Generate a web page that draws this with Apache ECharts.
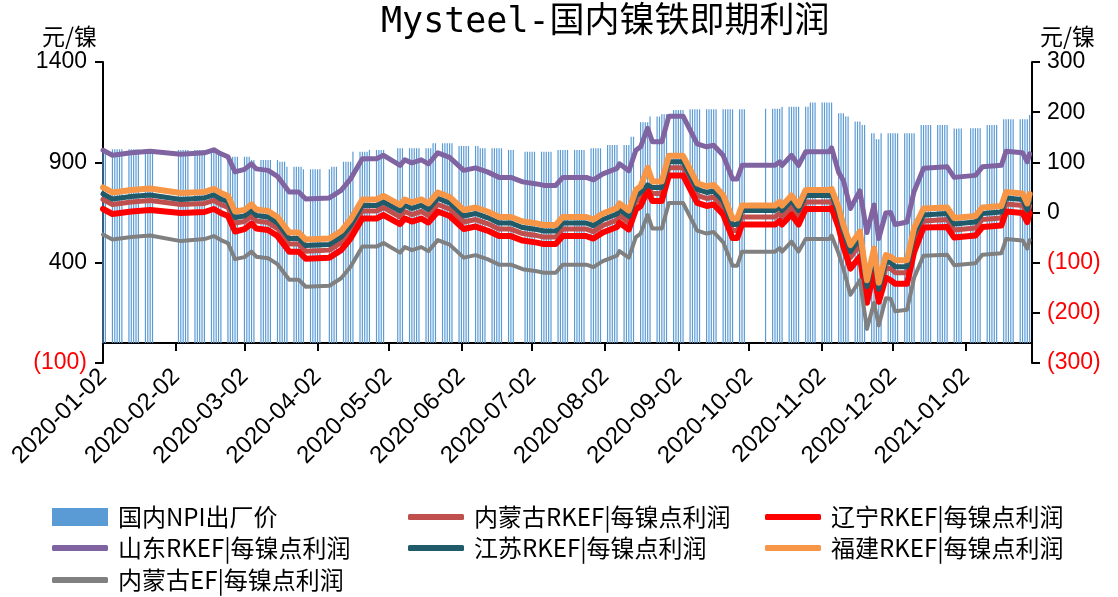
<!DOCTYPE html>
<html>
<head>
<meta charset="utf-8">
<title>Mysteel-国内镍铁即期利润</title>
<script src="https://cdn.jsdelivr.net/npm/echarts@6.0.0/dist/echarts.min.js"></script>
<style>
  html, body { margin: 0; padding: 0; background: #fff; }
  #chart { width: 1118px; height: 597px; }
</style>
</head>
<body>
<div id="chart"></div>
<script>
// 利润折线的取点日期（右轴，元/镍）
const lineDates = [
  '2020-01-02', '2020-01-06', '2020-01-14', '2020-01-22', '2020-02-04', '2020-02-14', '2020-02-18',
  '2020-02-21', '2020-02-24', '2020-02-27', '2020-03-02', '2020-03-05', '2020-03-07', '2020-03-12',
  '2020-03-16', '2020-03-21', '2020-03-25', '2020-03-28', '2020-04-07', '2020-04-12', '2020-04-16',
  '2020-04-21', '2020-04-27', '2020-04-30', '2020-05-07', '2020-05-09', '2020-05-12', '2020-05-16',
  '2020-05-19', '2020-05-23', '2020-05-28', '2020-06-03', '2020-06-08', '2020-06-13', '2020-06-18',
  '2020-06-23', '2020-06-28', '2020-07-04', '2020-07-07', '2020-07-12', '2020-07-15', '2020-07-25',
  '2020-07-28', '2020-08-01', '2020-08-07', '2020-08-08', '2020-08-12', '2020-08-15', '2020-08-17',
  '2020-08-20', '2020-08-22', '2020-08-26', '2020-08-29', '2020-09-04', '2020-09-10', '2020-09-14',
  '2020-09-17', '2020-09-21', '2020-09-25', '2020-09-27', '2020-09-29', '2020-10-13', '2020-10-15',
  '2020-10-16', '2020-10-20', '2020-10-23', '2020-10-26', '2020-11-05', '2020-11-06', '2020-11-09',
  '2020-11-11', '2020-11-14', '2020-11-18', '2020-11-21', '2020-11-24', '2020-11-26', '2020-11-29',
  '2020-12-01', '2020-12-03', '2020-12-08', '2020-12-11', '2020-12-15', '2020-12-25', '2020-12-28',
  '2021-01-06', '2021-01-09', '2021-01-17', '2021-01-19', '2021-01-26', '2021-01-28', '2021-01-29'
]

const shandong = [
  124, 114, 119, 122, 116, 119, 125, 117, 111, 81, 86, 97, 87, 84,
  72, 41, 41, 27, 29, 44, 67, 107, 107, 114, 94, 105, 99, 105,
  97, 119, 110, 84, 89, 81, 70, 70, 61, 57, 54, 54, 70, 70,
  65, 77, 88, 97, 83, 124, 131, 168, 141, 141, 192, 192, 137, 131,
  134, 114, 67, 67, 94, 94, 101, 94, 114, 94, 121, 121, 129, 80,
  64, 8, 43, -40, 15, -52, -1, 0, -24, -19, 42, 88, 91, 70,
  74, 91, 94, 122, 119, 101, 117
]
const fujian = [
  50, 40, 45, 48, 39, 41, 47, 39, 33, 2, 5, 16, 6, 3,
  -9, -40, -40, -54, -52, -37, -14, 26, 26, 33, 15, 26, 20, 26,
  18, 40, 31, 5, 10, 2, -9, -9, -18, -22, -25, -25, -9, -9,
  -14, -2, 9, 18, 4, 45, 52, 89, 62, 62, 113, 113, 58, 52,
  55, 35, -12, -12, 14, 14, 21, 14, 34, 14, 45, 45, 47, 10,
  -25, -65, -38, -135, -72, -140, -85, -88, -95, -95, -31, 8, 10, -11,
  -7, 10, 13, 41, 38, 18, 37
]
const jiangsu = [
  37, 27, 32, 35, 26, 29, 35, 27, 21, -10, -7, 4, -6, -9,
  -21, -52, -52, -66, -64, -49, -26, 14, 14, 21, 3, 14, 8, 14,
  6, 28, 19, -7, -2, -10, -21, -21, -30, -34, -37, -37, -21, -21,
  -26, -14, -3, 6, -8, 33, 40, 55, 50, 50, 101, 101, 46, 40,
  43, 23, -24, -24, 4, 4, 11, 4, 24, 4, 34, 34, 36, -2,
  -37, -78, -51, -148, -85, -153, -98, -100, -108, -108, -44, -5, -2, -23,
  -19, -2, 1, 29, 26, 5, 24
]
const neimengRKEF = [
  26, 16, 21, 24, 16, 18, 24, 16, 10, -21, -18, -7, -17, -20,
  -32, -63, -63, -77, -75, -60, -37, 3, 3, 10, -9, 2, -4, 2,
  -6, 16, 7, -19, -14, -22, -33, -33, -42, -46, -49, -49, -33, -33,
  -38, -26, -15, -6, -20, 21, 28, 48, 38, 38, 89, 89, 34, 28,
  31, 11, -36, -36, -9, -9, -2, -9, 11, -9, 21, 21, 23, -14,
  -49, -90, -63, -160, -97, -165, -110, -112, -120, -120, -56, -17, -14, -35,
  -31, -14, -11, 17, 14, -6, 13
]
const liaoning = [
  7, -3, 2, 5, -1, 1, 7, -1, -7, -38, -33, -22, -32, -35,
  -47, -78, -78, -92, -90, -75, -52, -12, -12, -5, -23, -12, -18, -12,
  -20, 2, -7, -33, -28, -36, -47, -47, -56, -60, -63, -63, -47, -47,
  -52, -40, -29, -20, -34, 6, 13, 44, 23, 23, 74, 74, 19, 13,
  16, -4, -51, -51, -24, -24, -17, -24, -4, -24, 7, 7, 9, -30,
  -68, -112, -88, -180, -118, -178, -130, -135, -142, -142, -79, -30, -29, -50,
  -46, -29, -26, 2, -1, -19, -1
]
const neimengEF = [
  -44, -54, -49, -46, -57, -53, -47, -55, -61, -93, -89, -78, -88, -91,
  -103, -134, -134, -148, -146, -131, -108, -68, -68, -61, -80, -69, -75, -69,
  -77, -55, -64, -90, -85, -93, -104, -104, -113, -117, -120, -120, -104, -104,
  -109, -97, -86, -77, -90, -49, -42, -5, -32, -32, 19, 19, -36, -42,
  -39, -59, -106, -106, -78, -78, -71, -78, -58, -78, -53, -53, -46, -82,
  -112, -164, -135, -232, -180, -225, -171, -172, -197, -194, -130, -86, -84, -105,
  -101, -84, -81, -53, -56, -72, -55
]

// 国内NPI出厂价（左轴）：[起始交易日, 价格]，价格保持到下一次调整
const npiSteps = [
  ['2020-01-02', 965], ['2020-02-03', 962], ['2020-02-20', 953], ['2020-02-24', 928],
  ['2020-03-05', 912], ['2020-03-17', 903], ['2020-03-20', 878], ['2020-03-27', 865],
  ['2020-04-08', 878], ['2020-04-13', 903], ['2020-04-17', 953], ['2020-04-24', 962],
  ['2020-05-06', 970], ['2020-05-21', 995], ['2020-06-01', 981], ['2020-06-10', 970],
  ['2020-06-22', 962], ['2020-06-29', 953], ['2020-07-13', 962], ['2020-07-27', 970],
  ['2020-08-03', 986], ['2020-08-13', 1028], ['2020-08-17', 1100], ['2020-08-21', 1128],
  ['2020-08-26', 1140], ['2020-08-31', 1161], ['2020-09-07', 1164], ['2020-10-09', 1167],
  ['2020-10-16', 1177], ['2020-10-28', 1198], ['2020-11-09', 1144], ['2020-11-12', 1128],
  ['2020-11-16', 1103], ['2020-11-19', 1086], ['2020-11-23', 1045], ['2020-11-25', 1015],
  ['2020-11-27', 1045], ['2020-12-14', 1086], ['2020-12-28', 1068], ['2021-01-04', 1070],
  ['2021-01-11', 1086], ['2021-01-18', 1115], ['2021-01-29', 1136]
]
// 无报价的日子（春节、清明、劳动节、端午、国庆、元旦）
const holidays = [
  '2020-01-24', '2020-01-27', '2020-01-28', '2020-01-29', '2020-01-30', '2020-01-31',
  '2020-04-06', '2020-05-01', '2020-05-04', '2020-05-05', '2020-06-25', '2020-06-26',
  '2020-10-01', '2020-10-02', '2020-10-05', '2020-10-06', '2020-10-07', '2020-10-08',
  '2021-01-01'
]
const firstDay = '2020-01-02'
const lastDay = '2021-01-29'

// 横轴刻度：每月2日
const monthTicks = [
  '2020-01-02', '2020-02-02', '2020-03-02', '2020-04-02', '2020-05-02', '2020-06-02', '2020-07-02',
  '2020-08-02', '2020-09-02', '2020-10-02', '2020-11-02', '2020-12-02', '2021-01-02'
]

const toTime = s => {
  const p = s.split( '-' ).map( Number )
  return new Date( p[0], p[1] - 1, p[2] ).getTime()
}
const pad = n => ( n < 10 ? '0' : '' ) + n
const fmtDate = t => {
  const d = new Date( t )
  return d.getFullYear() + '-' + pad( d.getMonth() + 1 ) + '-' + pad( d.getDate() )
}

// 交易日上的出厂价柱
const barData = []
for ( let t = toTime( firstDay ); t <= toTime( lastDay ); t += 86400000 ) {
  const d = new Date( t )
  const key = fmtDate( d.getTime() )
  if ( d.getDay() === 0 || d.getDay() === 6 || holidays.includes( key ) ) continue
  let v = null
  npiSteps.forEach( s => { if ( s[0] <= key ) v = s[1] } )
  barData.push( [toTime( key ), v] )
}

const pairs = arr => lineDates.map( ( d, i ) => [toTime( d ), arr[i]] )
const tickTimes = monthTicks.map( toTime )

const numFont = "'Liberation Sans', 'Noto Sans CJK SC', sans-serif"
const cjkFont = "'Noto Sans CJK SC', sans-serif"
const paren = v => ( v < 0 ? '{neg|(' + ( -v ) + ')}' : '{pos|' + v + '}' )
const labelRich = {
  neg : { color : '#FF0000', fontSize : 23, fontFamily : numFont },
  pos : { color : '#000', fontSize : 23, fontFamily : numFont }
}
const blackLine = { color : '#000', width : 2 }

const lineSeries = ( name, arr, color, width ) => ( {
  name,
  type : 'line',
  yAxisIndex : 1,
  data : pairs( arr ),
  showSymbol : false,
  symbol : 'none',
  lineStyle : { color, width, cap : 'round', join : 'round' },
  itemStyle : { color },
  emphasis : { disabled : true }
} )

// 图例：三列三行，每项单独定位
const legendText = { fontSize : 24, fontFamily : cjkFont, color : '#000', padding : [0, 0, 0, 5], lineHeight : 24 }
const legendItem = ( name, left, top, isBar ) => ( {
  left,
  top,
  padding : 0,
  itemWidth : 56,
  itemHeight : isBar ? 18 : 6,
  icon : isBar ? 'rect' : 'roundRect',
  textStyle : legendText,
  data : [name]
} )

const chart = echarts.init( document.getElementById( 'chart' ) )
chart.setOption( {
  animation : false,
  backgroundColor : '#fff',
  title : {
    text : 'Mysteel-国内镍铁即期利润',
    left : 376,
    top : 0,
    textStyle : { fontSize : 35, fontWeight : 'normal', color : '#000', fontFamily : "'DejaVu Sans Mono', 'Noto Sans CJK SC', monospace" }
  },
  grid : { left : 103, right : 86, top : 62, bottom : 234 },
  legend : [
    legendItem( '国内NPI出厂价', 52, 505, true ),
    legendItem( '内蒙古RKEF|每镍点利润', 408, 505 ),
    legendItem( '辽宁RKEF|每镍点利润', 765, 505 ),
    legendItem( '山东RKEF|每镍点利润', 52, 536 ),
    legendItem( '江苏RKEF|每镍点利润', 408, 536 ),
    legendItem( '福建RKEF|每镍点利润', 765, 536 ),
    legendItem( '内蒙古EF|每镍点利润', 52, 568 )
  ],
  xAxis : {
    type : 'value',
    min : toTime( '2020-01-02' ),
    max : toTime( '2021-01-30' ),
    axisLine : { onZero : true, onZeroAxisIndex : 0, lineStyle : blackLine },
    axisTick : { show : true, length : 8, customValues : tickTimes, lineStyle : blackLine },
    axisLabel : {
      customValues : tickTimes,
      rotate : 45,
      margin : 10,
      fontSize : 24,
      color : '#000',
      fontFamily : numFont,
      hideOverlap : false,
      formatter : v => fmtDate( v )
    },
    splitLine : { show : false }
  },
  yAxis : [
    {
      type : 'value',
      position : 'left',
      min : -100,
      max : 1400,
      interval : 500,
      name : '元/镍',
      nameLocation : 'end',
      nameGap : 14,
      nameTextStyle : { fontSize : 23, color : '#000', fontFamily : cjkFont, align : 'right', padding : [0, 6, 0, 0] },
      axisLine : { show : true, lineStyle : blackLine },
      axisTick : { show : true, length : 8, lineStyle : blackLine },
      axisLabel : { margin : 16, formatter : paren, rich : labelRich },
      splitLine : { show : false }
    },
    {
      type : 'value',
      position : 'right',
      min : -300,
      max : 300,
      interval : 100,
      name : '元/镍',
      nameLocation : 'end',
      nameGap : 14,
      nameTextStyle : { fontSize : 23, color : '#000', fontFamily : cjkFont, align : 'left', padding : [0, 0, 0, 8] },
      axisLine : { show : true, lineStyle : blackLine },
      axisTick : { show : true, length : 8, lineStyle : blackLine },
      axisLabel : { margin : 15, formatter : paren, rich : labelRich },
      splitLine : { show : false }
    }
  ],
  series : [
    {
      name : '国内NPI出厂价',
      type : 'bar',
      yAxisIndex : 0,
      data : barData,
      barWidth : 1.2,
      itemStyle : { color : '#5B9BD5' },
      emphasis : { disabled : true }
    },
    lineSeries( '内蒙古RKEF|每镍点利润', neimengRKEF, '#C0504D', 5 ),
    lineSeries( '辽宁RKEF|每镍点利润', liaoning, '#FF0000', 6 ),
    lineSeries( '山东RKEF|每镍点利润', shandong, '#8064A2', 5 ),
    lineSeries( '江苏RKEF|每镍点利润', jiangsu, '#215A69', 5 ),
    lineSeries( '福建RKEF|每镍点利润', fujian, '#F79646', 6 ),
    lineSeries( '内蒙古EF|每镍点利润', neimengEF, '#808080', 4 )
  ]
} )
</script>
</body>
</html>
